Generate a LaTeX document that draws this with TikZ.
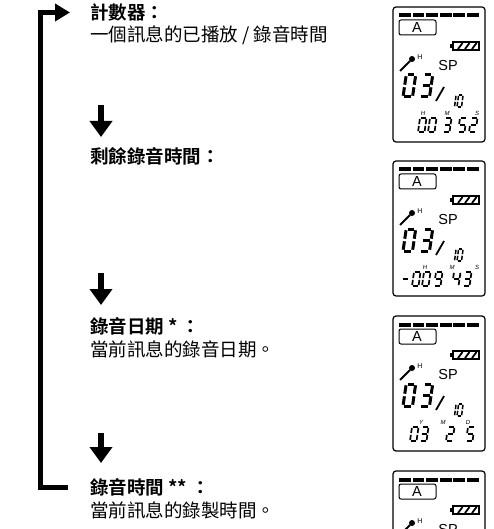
\documentclass[tikz,border=0pt]{standalone}
\usepackage{fontspec}
\newfontfamily\cjk{Noto Sans CJK TC}[BoldFont={Noto Sans CJK TC Bold}]
\newfontfamily\lcdfont{Liberation Sans}
\usetikzlibrary{arrows.meta}
% segment lists for the lcd digits (x/y from, x/y to; y runs 0 top .. 2 bottom)
\def\dzero{0/0/1/0,1/0/1/1,1/1/1/2,0/2/1/2,0/1/0/2,0/0/0/1}
\def\done{1/0/1/1,1/1/1/2}
\def\dtwo{0/0/1/0,1/0/1/1,0/1/1/1,0/1/0/2,0/2/1/2}
\def\dthree{0/0/1/0,1/0/1/1,0/1/1/1,1/1/1/2,0/2/1/2}
\def\dfour{0/0/0/1,0/1/1/1,1/0/1/1,1/1/1/2}
\def\dfive{0/0/1/0,0/0/0/1,0/1/1/1,1/1/1/2,0/2/1/2}
\def\dnine{0/0/1/0,0/0/0/1,1/0/1/1,0/1/1/1,1/1/1/2,0/2/1/2}
\begin{document}
\begin{tikzpicture}[x=1pt,y=-1pt]
\tikzset{
  head/.style={anchor=west,inner sep=0pt,font=\cjk\bfseries\fontsize{18.5}{22}\selectfont},
  desc/.style={anchor=west,inner sep=0pt,font=\cjk\fontsize{18.5}{22}\selectfont},
  loopline/.style={line width=5pt,line join=miter,-{Triangle[length=15pt,width=17pt]}},
  downarr/.style={line width=6pt,-{Triangle[length=16pt,width=22pt]}},
  lcdframe/.style={line width=1.2pt,rounded corners=3pt},
  lcdtext/.style={inner sep=0pt,font=\lcdfont\fontsize{14.5}{15}\selectfont},
  lcdlabel/.style={inner sep=0pt,font=\lcdfont\itshape\fontsize{6}{6}\selectfont},
  digit size/.code n args={3}{\def\dw{#1}\def\dh{#2}\def\ds{#3}},
  bigseg/.style={digit size={9.5}{11}{1.6},line width=3pt,shorten <=1.3pt,shorten >=1.3pt},
  smallseg/.style={digit size={6.5}{7}{1},line width=1.7pt,double=white,double distance=0.5pt,
    shorten <=0.9pt,shorten >=0.9pt},
  tinyseg/.style={digit size={4.5}{6}{0.8},line width=1.5pt,double=white,double distance=0.4pt,
    shorten <=0.8pt,shorten >=0.8pt},
  pics/digit/.style={code={
    \foreach \xa/\ya/\xb/\yb in #1
      \draw ({\xa*\dw+(2-\ya)*\ds},{\ya*\dh}) -- ({\xb*\dw+(2-\yb)*\ds},{\yb*\dh});
  }},
  pics/lcd/.style={code={
    \draw[lcdframe] (0,0) rectangle (92,135);
    \foreach \i in {0,...,5}
      \fill (6+\i*13.6,6.5) rectangle ++(11.8,4);
    \draw[line width=1pt,rounded corners=2pt] (6,13) rectangle (43,28);
    \node[lcdtext] at (24,20.5) {A};
    % battery
    \draw[line width=1.3pt] (60,35) rectangle (86,43);
    \fill (56.5,37.3) rectangle (60,40.7);
    \foreach \s in {65,72,79}
      \draw[line width=1.8pt] (\s,42) -- (\s+4.5,36);
    % mic
    \draw[line width=2pt] (7,64) -- (17,54);
    \fill (19,52) circle (3pt);
    \node[inner sep=0pt,font=\lcdfont\fontsize{7}{7}\selectfont] at (27,50) {H};
    \node[lcdtext] at (55,59) {SP};
    \pic[bigseg] at (10,68) {digit=\dzero};
    \pic[bigseg] at (27,68) {digit=\dthree};
    \draw[line width=1.8pt] (51,80) -- (43,94);
    \pic[tinyseg] at (57,88) {digit=\done};
    \pic[tinyseg] at (64,88) {digit=\dzero};
  }},
}
\useasboundingbox (0,0) rectangle (494,529);
\clip (0,0) rectangle (494,529);

% texts
\node[head] (counter) at (90,12.5) {計數器：};
\node[desc] (counterd) at (90,35) {一個訊息的已播放 / 錄音時間};
\node[head] (remain) at (90,156) {剩餘錄音時間：};
\node[head] (recdate) at (90,326) {錄音日期 * ：};
\node[desc] (recdated) at (90,349) {當前訊息的錄音日期。};
\node[head] (rectime) at (90,487) {錄音時間 ** ：};
\node[desc] (rectimed) at (90,510) {當前訊息的錄製時間。};

% arrows
\draw[loopline] ([xshift=-22pt]rectime.west) -| ([xshift=-50pt]counter.west) -- ([xshift=-20pt]counter.west);
\coordinate (a1) at (101,105); \coordinate (b1) at (101,137);
\coordinate (a2) at (101,273); \coordinate (b2) at (101,305);
\coordinate (a3) at (101,433); \coordinate (b3) at (101,463);
\foreach \i in {1,2,3}
  \draw[downarr] (a\i) -- (b\i);

% screens
\begin{scope}[shift={(393,7)}]
  \pic {lcd};
  \node[lcdlabel] at (30,106) {H};
  \node[lcdlabel] at (54,106) {M};
  \node[lcdlabel] at (84,106) {S};
  \pic[smallseg] at (25,111) {digit=\dzero};
  \pic[smallseg] at (35,111) {digit=\dzero};
  \pic[smallseg] at (50,111) {digit=\dthree};
  \pic[smallseg] at (65,111) {digit=\dfive};
  \pic[smallseg] at (76,111) {digit=\dtwo};
\end{scope}
\begin{scope}[shift={(393,161)}]
  \pic {lcd};
  \node[lcdlabel] at (32,106) {H};
  \node[lcdlabel] at (59,106) {M};
  \node[lcdlabel] at (84,106) {S};
  \draw[line width=1.5pt] (10,118) -- (14.5,118);
  \pic[smallseg] at (19,111) {digit=\dzero};
  \pic[smallseg] at (29,111) {digit=\dzero};
  \pic[smallseg] at (41,111) {digit=\dnine};
  \pic[smallseg] at (59,111) {digit=\dfour};
  \pic[smallseg] at (70,111) {digit=\dthree};
\end{scope}
\begin{scope}[shift={(393,316)}]
  \pic {lcd};
  \node[lcdlabel] at (28,106) {Y};
  \node[lcdlabel] at (50,106) {M};
  \node[lcdlabel] at (75,106) {D};
  \pic[smallseg] at (17,111) {digit=\dzero};
  \pic[smallseg] at (27,111) {digit=\dthree};
  \pic[smallseg] at (53,111) {digit=\dtwo};
  \pic[smallseg] at (73,111) {digit=\dfive};
\end{scope}
\begin{scope}[shift={(393,471)}]
  \pic {lcd};
\end{scope}
\end{tikzpicture}
\end{document}
